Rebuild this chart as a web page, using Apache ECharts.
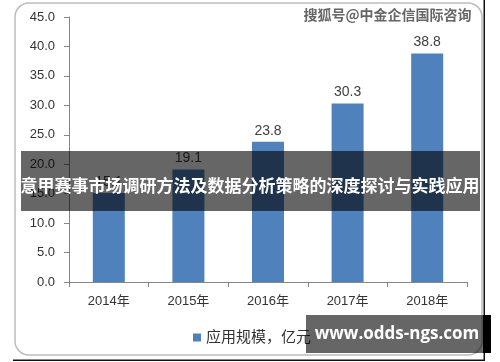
<!DOCTYPE html>
<html>
<head>
<meta charset="utf-8">
<script src="https://cdn.jsdelivr.net/npm/echarts@6/dist/echarts.min.js"></script>
<style>html,body{margin:0;padding:0;background:#fff;}#c{width:500px;height:362px;}</style>
</head>
<body>
<div id="c"></div>
<script>
const categories = ['2014年', '2015年', '2016年', '2017年', '2018年'];
const values = [15.1, 19.1, 23.8, 30.3, 38.8];
const seriesName = '应用规模，亿元';
const yTicks = { min: 0, max: 45, interval: 5 };
const bannerText = '意甲赛事市场调研方法及数据分析策略的深度探讨与实践应用';
const watermarkText = '搜狐号@中金企信国际咨询';
const siteText = 'www.odds-ngs.com';

const chart = echarts.init(document.getElementById('c'), null, { renderer: 'canvas' });
const font = '"Liberation Sans", "Noto Sans CJK SC", sans-serif';
chart.setOption({
  animation: false,
  backgroundColor: '#fff',
  grid: { left: 69, right: 33, top: 17, bottom: 80 },
  legend: {
    data: [seriesName], left: 188, top: 325, itemWidth: 8, itemHeight: 8, itemGap: 4,
    icon: 'rect', textStyle: { fontSize: 15, color: '#333', fontFamily: font }
  },
  xAxis: {
    type: 'category', data: categories,
    axisLine: { lineStyle: { color: '#868686', width: 1 } },
    axisTick: { show: true, length: 5, lineStyle: { color: '#868686' } },
    axisLabel: { color: '#333', fontSize: 13, margin: 13, fontFamily: font }
  },
  yAxis: {
    type: 'value', min: yTicks.min, max: yTicks.max, interval: yTicks.interval,
    splitLine: { show: false },
    axisLine: { show: true, lineStyle: { color: '#868686', width: 1 } },
    axisTick: { show: true, length: 5, lineStyle: { color: '#868686' } },
    axisLabel: { color: '#333', fontSize: 13, margin: 14, fontFamily: font, formatter: v => v.toFixed(1) }
  },
  series: [{
    name: seriesName, type: 'bar', data: values, barWidth: 32,
    itemStyle: { color: '#4F81BD' },
    label: { show: true, position: 'top', distance: 4, color: '#404040', fontSize: 14, fontFamily: font, formatter: p => p.value.toFixed(1) }
  }],
  graphic: [
    { type: 'rect', shape: { x: 15, y: 3, width: 467, height: 352, r: 14 }, style: { fill: 'none', stroke: '#bdbdbd', lineWidth: 1.5 }, z: 1 },
    { type: 'rect', shape: { x: 483.5, y: 0, width: 1.5, height: 361 }, style: { fill: '#111' }, z: 1 },
    { type: 'rect', shape: { x: 13, y: 359.5, width: 472, height: 1.5 }, style: { fill: '#111' }, z: 1 },
    { type: 'text', right: 28, top: 7, style: { text: watermarkText, fill: '#666', stroke: '#fff', lineWidth: 1, font: 'bold 14px "Noto Sans CJK SC", sans-serif' }, z: 5 },
    { type: 'rect', shape: { x: 21, y: 151, width: 459, height: 60 }, style: { fill: 'rgba(0,0,0,0.6)' }, z: 10 },
    { type: 'text', x: 250, y: 186, style: { text: bannerText, fill: '#fff', align: 'center', verticalAlign: 'middle', font: 'bold 17px "Noto Sans CJK SC", sans-serif' }, z: 11 },
    { type: 'rect', shape: { x: 306, y: 315, width: 177, height: 38 }, style: { fill: 'rgba(0,0,0,0.6)' }, z: 10 },
    { type: 'rect', shape: { x: 483, y: 315, width: 8, height: 38 }, style: { fill: '#000' }, z: 10 },
    { type: 'text', x: 397, y: 334, style: { text: siteText, fill: '#fff', align: 'center', verticalAlign: 'middle', font: 'bold 17px "Open Sans", "DejaVu Sans", sans-serif' }, z: 11 }
  ]
});
</script>
</body>
</html>
